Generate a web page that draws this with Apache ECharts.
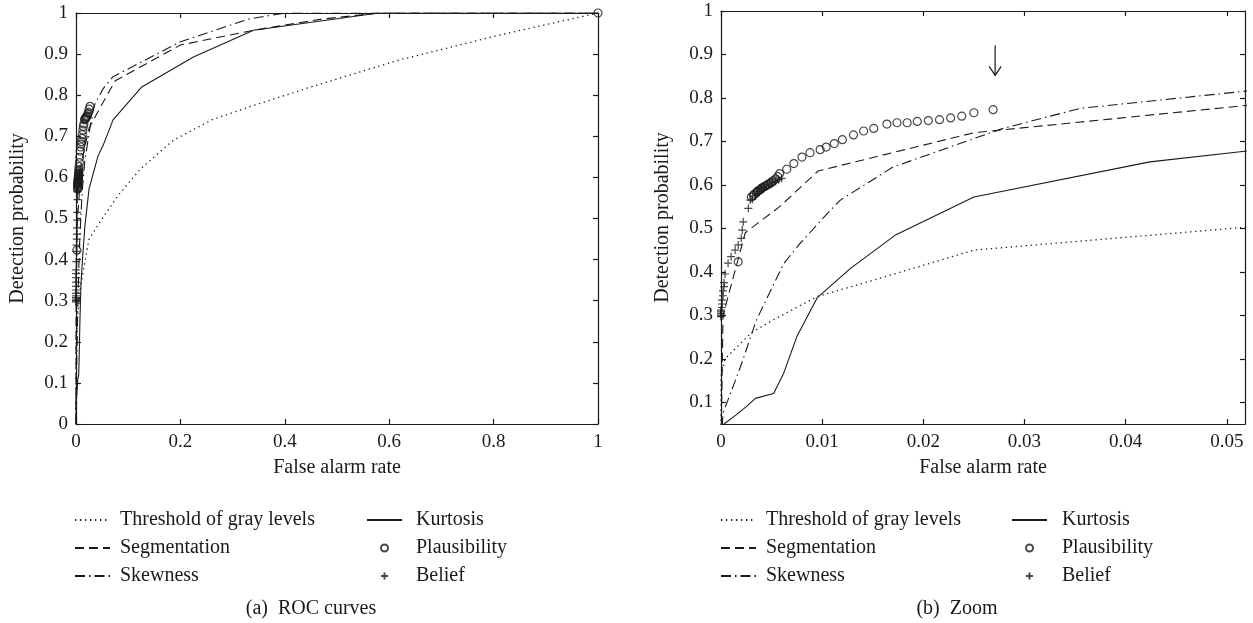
<!DOCTYPE html>
<html><head><meta charset="utf-8">
<script src="https://cdn.jsdelivr.net/npm/echarts@6/dist/echarts.min.js"></script>
<style>html,body{margin:0;padding:0;background:#fff}#c{width:1253px;height:623px}</style>
</head><body><div id="c"></div>
<script>
// ---------- data ----------
const seriesNames = ['Threshold of gray levels','Segmentation','Skewness','Kurtosis','Plausibility','Belief'];
const captions = ['(a)  ROC curves','(b)  Zoom'];
const xTicksFull = [0,0.2,0.4,0.6,0.8,1];
const yTicksFull = [0,0.1,0.2,0.3,0.4,0.5,0.6,0.7,0.8,0.9,1];
const xTicksZoom = [0,0.01,0.02,0.03,0.04,0.05];
const yTicksZoom = [0.1,0.2,0.3,0.4,0.5,0.6,0.7,0.8,0.9,1];
const thresholdPts = [[0,0],[0,0.16],[0.0004,0.2],[0.003,0.26],[0.0052,0.29],[0.0095,0.343],[0.0151,0.381],[0.025,0.45],[0.052,0.503],[0.08,0.555],[0.123,0.62],[0.186,0.69],[0.26,0.74],[0.333,0.772],[0.45,0.82],[0.62,0.886],[0.81,0.946],[1,1]];
const segmentationPts = [[0,0],[0.0002,0.3],[0.0024,0.49],[0.0058,0.55],[0.0096,0.632],[0.025,0.72],[0.052,0.783],[0.075,0.835],[0.2,0.922],[0.34,0.958],[0.47,0.985],[0.58,1],[1,1]];
const skewnessPts = [[0,0],[0.0002,0.075],[0.0019,0.18],[0.0035,0.289],[0.0062,0.419],[0.0078,0.465],[0.0105,0.534],[0.0118,0.565],[0.017,0.641],[0.0236,0.695],[0.0279,0.73],[0.0355,0.776],[0.052,0.816],[0.071,0.845],[0.2,0.93],[0.33,0.985],[0.4,1],[1,1]];
const kurtosisPts = [[0,0],[0.0003,0.05],[0.0015,0.071],[0.0025,0.09],[0.0034,0.109],[0.0052,0.12],[0.0062,0.167],[0.0075,0.251],[0.0095,0.34],[0.0128,0.408],[0.0172,0.484],[0.025,0.572],[0.0424,0.653],[0.052,0.678],[0.071,0.74],[0.126,0.82],[0.225,0.893],[0.34,0.958],[0.58,1],[1,1]];
const plausibilityPts = [[0.0017,0.423],[0.0030,0.572],[0.0032,0.576],[0.0033,0.579],[0.0035,0.582],[0.0036,0.585],[0.0037,0.587],[0.0039,0.589],[0.0040,0.592],[0.0041,0.594],[0.0043,0.596],[0.0044,0.598],[0.0046,0.600],[0.0047,0.602],[0.0049,0.604],[0.0050,0.607],[0.0052,0.610],[0.0054,0.614],[0.0056,0.619],[0.0058,0.626],[0.0065,0.636],[0.0072,0.649],[0.0080,0.664],[0.0088,0.674],[0.0098,0.681],[0.0104,0.687],[0.0112,0.695],[0.0120,0.704],[0.0131,0.715],[0.0141,0.724],[0.0151,0.730],[0.0164,0.740],[0.0174,0.743],[0.0184,0.743],[0.0194,0.746],[0.0205,0.748],[0.0216,0.750],[0.0227,0.754],[0.0238,0.758],[0.0250,0.766],[0.0269,0.773],[1,1]];
const beliefPts = [[0,0.297],[0,0.300],[0,0.304],[0,0.308],[0,0.312],[0.0001,0.318],[0.0001,0.326],[0.0001,0.335],[0.0002,0.345],[0.0002,0.356],[0.0003,0.366],[0.0003,0.375],[0.0004,0.395],[0.0007,0.42],[0.001,0.435],[0.0014,0.45],[0.0017,0.462],[0.002,0.477],[0.0021,0.496],[0.0022,0.515],[0.0027,0.546],[0.0029,0.565],[0.0031,0.567],[0.0034,0.575],[0.0036,0.58],[0.0038,0.585],[0.004,0.59],[0.0042,0.594],[0.0045,0.598],[0.0048,0.602],[0.0051,0.605],[0.0054,0.608],[0.0057,0.612],[0.006,0.615]];
const arrowAnno = {x: 0.0271, yTop: 0.921, yBottom: 0.852};

// ---------- styling ----------
const FONT = '"Liberation Serif", "DejaVu Serif", serif';
const INK = '#1a1a1a';
const tickFont = {fontFamily: FONT, fontSize: 19, color: INK};
const textFont = {fontFamily: FONT, fontSize: 20, color: INK};
const axisLine = {show: true, onZero: false, lineStyle: {color: INK, width: 1.2}};
const tickIn = (vals) => ({show: true, inside: true, length: 5, lineStyle: {color: INK, width: 1.2}, customValues: vals});

function xAxes(gridIndex, min, max, ticks) {
  return [
    {type: 'value', gridIndex, position: 'bottom', min, max,
     axisLine, axisTick: tickIn(ticks), splitLine: {show: false},
     axisLabel: Object.assign({margin: 9, customValues: ticks}, tickFont),
     name: 'False alarm rate', nameLocation: 'middle', nameGap: 34, nameTextStyle: textFont},
    {type: 'value', gridIndex, position: 'top', min, max,
     axisLine, axisTick: tickIn(ticks), splitLine: {show: false}, axisLabel: {show: false}}
  ];
}
function yAxes(gridIndex, min, max, ticks, labelTicks) {
  return [
    {type: 'value', gridIndex, position: 'left', min, max,
     axisLine, axisTick: tickIn(ticks), splitLine: {show: false},
     axisLabel: Object.assign({margin: 8, customValues: labelTicks}, tickFont),
     name: 'Detection probability', nameLocation: 'middle', nameGap: 48, nameTextStyle: textFont},
    {type: 'value', gridIndex, position: 'right', min, max,
     axisLine, axisTick: tickIn(ticks), splitLine: {show: false}, axisLabel: {show: false}}
  ];
}

const PLUS = 'path://M5,0 L5,10 M0,5 L10,5';
function seriesFor(ax) {
  const base = {xAxisIndex: ax, yAxisIndex: ax, animation: false, silent: true};
  const line = (name, data, type, w) => Object.assign({
    type: 'line', name, data, symbol: 'none', showSymbol: false, clip: true,
    lineStyle: {color: INK, width: w, type}, itemStyle: {color: 'rgba(0,0,0,0)', borderWidth: 0}
  }, base);
  return [
    line(seriesNames[0], thresholdPts, [1.3, 3.7], 1.3),
    line(seriesNames[1], segmentationPts, [9, 5], 1.1),
    line(seriesNames[2], skewnessPts, [10, 4, 1.5, 4], 1.1),
    line(seriesNames[3], kurtosisPts, 'solid', 1.1),
    Object.assign({type: 'scatter', name: seriesNames[4], data: plausibilityPts, symbol: 'circle', symbolSize: 8, clip: true,
      itemStyle: {color: 'none', borderColor: INK, borderWidth: 1.2}}, base),
    Object.assign({type: 'scatter', name: seriesNames[5], data: beliefPts, symbol: PLUS, symbolSize: 8, clip: true,
      itemStyle: {color: 'none', borderColor: INK, borderWidth: 1.2}}, base)
  ];
}

function legendAt(left, names, padLeft) {
  return {
    left, top: 510, orient: 'vertical', data: names, itemWidth: 35, itemHeight: 7, itemGap: 8,
    padding: 0, selectedMode: false,
    textStyle: Object.assign({padding: [0, 0, 0, padLeft]}, textFont)
  };
}

const chart = echarts.init(document.getElementById('c'));
const xa = xAxes(0, 0, 1, xTicksFull).concat(xAxes(1, 0, 0.0518, xTicksZoom));
const ya = yAxes(0, 0, 1, yTicksFull, yTicksFull).concat(yAxes(1, 0.05, 1, yTicksZoom, yTicksZoom));
const opt = {
  backgroundColor: '#fff',
  animation: false,
  title: [
    {text: captions[0], left: 306, top: 594, textAlign: 'center', textStyle: Object.assign({fontWeight: 'normal'}, textFont)},
    {text: captions[1], left: 952, top: 594, textAlign: 'center', textStyle: Object.assign({fontWeight: 'normal'}, textFont)}
  ],
  grid: [
    {left: 76, right: 655, top: 13, bottom: 199},
    {left: 721, right: 8, top: 11, bottom: 199}
  ],
  xAxis: xa,
  yAxis: ya,
  legend: [
    legendAt(74, seriesNames.slice(0, 3), 5),
    legendAt(366, seriesNames.slice(3), 9),
    legendAt(720, seriesNames.slice(0, 3), 5),
    legendAt(1011, seriesNames.slice(3), 10)
  ],
  series: seriesFor(0).concat(seriesFor(2))
};
chart.setOption(opt);

// annotation arrow pointing at the last plausibility point in the zoom panel
const pTop = chart.convertToPixel({xAxisIndex: 2, yAxisIndex: 2}, [arrowAnno.x, arrowAnno.yTop]);
const pBot = chart.convertToPixel({xAxisIndex: 2, yAxisIndex: 2}, [arrowAnno.x, arrowAnno.yBottom]);
chart.setOption({
  graphic: [
    {type: 'line', shape: {x1: pTop[0], y1: pTop[1], x2: pBot[0], y2: pBot[1]}, style: {stroke: INK, lineWidth: 1.2}},
    {type: 'polyline', shape: {points: [[pBot[0] - 6, pBot[1] - 9], [pBot[0], pBot[1]], [pBot[0] + 6, pBot[1] - 9]]}, style: {stroke: INK, lineWidth: 1.2, fill: 'none'}}
  ]
});
</script>
</body></html>
